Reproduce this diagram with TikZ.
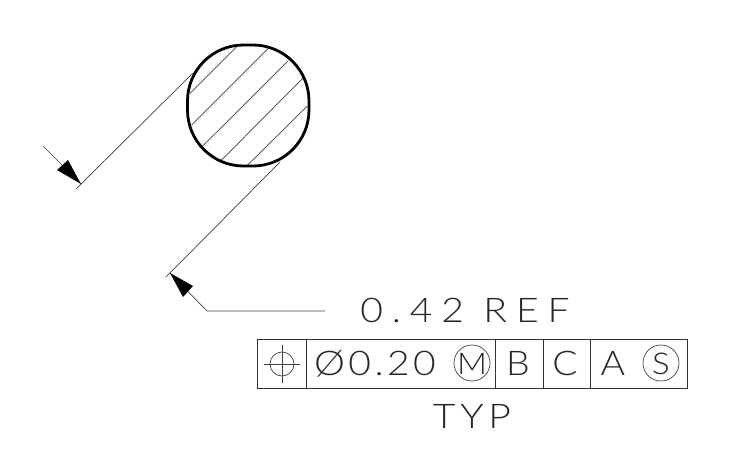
\documentclass[tikz,border=0pt]{standalone}
\usepackage{fontspec}
\setmainfont{Lato}[UprightFont=* Light]
\newfontfamily\cadA{Lato}[UprightFont=* Light,FakeStretch=1.15,LetterSpace=26]
\newfontfamily\cadT{Lato}[UprightFont=* Light,FakeStretch=1.15,LetterSpace=14]
\newfontfamily\cadB{Lato}[UprightFont=* Light,FakeStretch=1.15,LetterSpace=10]
\newfontfamily\cadC{Lato}[UprightFont=* Light,FakeStretch=1.1]
\begin{document}
\begin{tikzpicture}[x=1pt,y=-1pt,
  thinline/.style={line width=0.7pt,draw=black!75},
  frameline/.style={line width=1pt,draw=black!80},
  outline/.style={line width=2.8pt,draw=black},
  head/.style={fill=black,draw=none},
  cadtext/.style={inner sep=0pt,anchor=center,font=\fontsize{34}{34}\selectfont,text=black!85}]
\useasboundingbox (0,0) rectangle (731,450);
% hatching
\foreach \a/\b/\c/\d in {236.7/46.7/190/93.3,268.3/48.3/191.7/125,288.3/60.7/202.7/146,302.7/78.3/221/160.7,307.3/106/247.7/165}
  \draw[thinline] (\a,\b) -- (\c,\d);
% section outline
\draw[outline,rounded corners=56pt] (187.5,45) rectangle (309,166);
% extension lines
\coordinate (e1a) at (193,73); \coordinate (e1b) at (76,189);
\coordinate (e2a) at (280,162); \coordinate (e2b) at (166,277);
\draw[thinline] (e1a) -- (e1b);
\draw[thinline] (e2a) -- (e2b);
% arrow 1
\coordinate (l1) at (43,146); \coordinate (t1) at (81,184);
\draw[thinline] (l1) -- (t1);
\fill[head] (t1) -- (57,170) -- (68,160) -- cycle;
% arrow 2
\coordinate (t2) at (170,273); \coordinate (k2) at (207,311); \coordinate (e2) at (325,311);
\draw[thinline] (e2) -- (k2) -- (t2);
\fill[head] (t2) -- (183,297) -- (193,286) -- cycle;
% labels
\node[cadtext] (ref) at (465,310.5) {\cadA 0.42 REF};
\node[cadtext] (typ) at (472,416) {\cadT TYP};
% frame
\draw[frameline] (257,339) rectangle (687,388);
\foreach \x in {306,495,543,590} \draw[frameline] (\x,339) -- (\x,388);
% position symbol
\draw[thinline] (282,364) circle (12);
\draw[thinline] (264,364) -- (300,364);
\draw[thinline] (282,345) -- (282,383);
% frame contents
\node[cadtext] (tol) at (375,363.5) {\cadB Ø0.20};
\draw[thinline] (472,363) circle (18);
\node[cadtext,font=\fontsize{30}{30}\selectfont] (m) at (472,363.5) {\cadC M};
\node[cadtext] (b) at (518,363.5) {\cadC B};
\node[cadtext] (c) at (565,363.5) {\cadC C};
\node[cadtext] (a) at (613,363.5) {\cadC A};
\draw[thinline] (661,363) circle (18);
\node[cadtext,font=\fontsize{30}{30}\selectfont] (s) at (661,363.5) {\cadC S};
\end{tikzpicture}
\end{document}
